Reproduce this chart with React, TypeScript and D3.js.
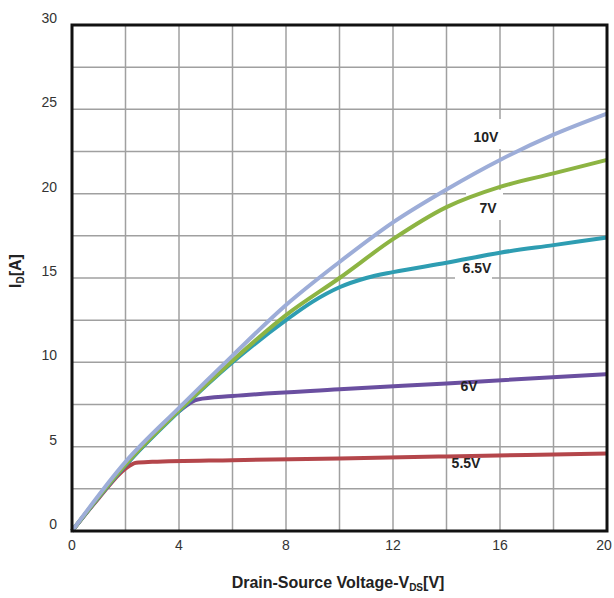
import React, { useEffect, useRef } from "react";
import * as d3 from "d3";

const xTicks = [0, 4, 8, 12, 16, 20];
const yTicks = [0, 5, 10, 15, 20, 25, 30];

// [Vds, Id]
const s55 = [[0, 0], [1, 1.95], [2, 3.7], [2.4, 4.05], [3, 4.1], [6, 4.2], [10, 4.3], [14, 4.42], [20, 4.6]];
const s6 = [[0, 0], [1, 2.0], [2, 3.9], [3, 5.6], [4, 7.1], [4.7, 7.8], [6, 8.0], [10, 8.4], [14, 8.75], [20, 9.3]];
const s65 = [[0, 0], [2, 3.9], [4, 7.1], [6, 10.0], [8, 12.5], [9, 13.6], [10, 14.45], [11, 15.0], [12, 15.35], [14, 15.9], [16, 16.5], [18, 16.95], [20, 17.4]];
const s7 = [[0, 0], [2, 3.95], [4, 7.15], [6, 10.1], [8, 12.8], [10, 15.0], [12, 17.3], [14, 19.2], [16, 20.4], [18, 21.2], [20, 22.0]];
const s10 = [[0, 0], [2, 4.1], [4, 7.3], [6, 10.4], [8, 13.4], [10, 15.95], [12, 18.3], [14, 20.25], [16, 22.0], [18, 23.5], [20, 24.75]];

const series = [
  { name: "5.5V", color: "#b4464b", pts: s55, lx: 466, ly: 463, box: false },
  { name: "6V", color: "#6a4fa0", pts: s6, lx: 469, ly: 386, box: false },
  { name: "6.5V", color: "#2e9db2", pts: s65, lx: 477, ly: 268, box: true },
  { name: "7V", color: "#8db443", pts: s7, lx: 488, ly: 208, box: true },
  { name: "10V", color: "#9dadd8", pts: s10, lx: 486, ly: 137, box: true },
];

export default function App() {
  const svgRef = useRef<SVGSVGElement>(null);

  useEffect(() => {
    document.body.style.margin = "0";
    const width = 614;
    const height = 598;
    const m = { left: 72, right: 7, top: 25, bottom: 67 };

    const svg = d3.select(svgRef.current).attr("width", width).attr("height", height);
    svg.selectAll("*").remove();
    svg.append("rect").attr("width", width).attr("height", height).attr("fill", "#fff");

    const x = d3.scaleLinear().domain([0, 20]).range([m.left, width - m.right]);
    const y = d3.scaleLinear().domain([0, 30]).range([height - m.bottom, m.top]);

    const grid = svg.append("g").attr("stroke", "#a0a0a0").attr("stroke-width", 1.5);
    grid.selectAll("line.v").data(d3.range(2, 20, 2)).enter().append("line")
      .attr("x1", (d) => x(d)).attr("x2", (d) => x(d))
      .attr("y1", y(0)).attr("y2", y(30));
    grid.selectAll("line.h").data(d3.range(2.5, 30, 2.5)).enter().append("line")
      .attr("x1", x(0)).attr("x2", x(20))
      .attr("y1", (d) => y(d)).attr("y2", (d) => y(d));

    // white patches behind the labels that cut the grid
    series.filter((s) => s.box).forEach((s) => {
      svg.append("rect")
        .attr("x", s.lx - 22).attr("y", s.ly - 18)
        .attr("width", 37).attr("height", 30)
        .attr("fill", "#fff");
    });

    const line = d3.line<number[]>()
      .x((d) => x(d[0]))
      .y((d) => y(d[1]))
      .curve(d3.curveMonotoneX);

    series.forEach((s) => {
      svg.append("path")
        .datum(s.pts)
        .attr("fill", "none")
        .attr("stroke", s.color)
        .attr("stroke-width", 4)
        .attr("stroke-linejoin", "round")
        .attr("d", line);
    });

    svg.append("rect")
      .attr("x", x(0)).attr("y", y(30))
      .attr("width", x(20) - x(0)).attr("height", y(0) - y(30))
      .attr("fill", "none").attr("stroke", "#111").attr("stroke-width", 3);

    const font = "Liberation Sans, Arial, sans-serif";

    svg.append("g").selectAll("text").data(yTicks).enter().append("text")
      .attr("x", 57).attr("y", (d) => y(d) - 2)
      .attr("text-anchor", "end")
      .attr("font-family", font).attr("font-size", 14).attr("fill", "#333")
      .text((d) => d);

    svg.append("g").selectAll("text").data(xTicks).enter().append("text")
      .attr("x", (d) => x(d) - (d === 20 ? 3 : 0)).attr("y", y(0) + 19)
      .attr("text-anchor", "middle")
      .attr("font-family", font).attr("font-size", 14).attr("fill", "#333")
      .text((d) => d);

    series.forEach((s) => {
      svg.append("text")
        .attr("x", s.lx).attr("y", s.ly + 5)
        .attr("text-anchor", "middle")
        .attr("font-family", font).attr("font-size", 14).attr("font-weight", "bold")
        .attr("fill", "#222")
        .text(s.name);
    });

    const xt = svg.append("text")
      .attr("x", 338).attr("y", 588)
      .attr("text-anchor", "middle")
      .attr("font-family", font).attr("font-size", 16).attr("font-weight", "bold")
      .attr("fill", "#222");
    xt.append("tspan").text("Drain-Source Voltage-V");
    xt.append("tspan").attr("font-size", 10).attr("dy", 3).text("DS");
    xt.append("tspan").attr("dy", -3).text("[V]");

    const yt = svg.append("text")
      .attr("transform", "translate(21,271) rotate(-90)")
      .attr("text-anchor", "middle")
      .attr("font-family", font).attr("font-size", 16).attr("font-weight", "bold")
      .attr("fill", "#222");
    yt.append("tspan").text("I");
    yt.append("tspan").attr("font-size", 10).attr("dy", 3).text("D");
    yt.append("tspan").attr("dy", -3).text("[A]");
  }, []);

  return <svg ref={svgRef} style={{ display: "block" }}></svg>;
}
